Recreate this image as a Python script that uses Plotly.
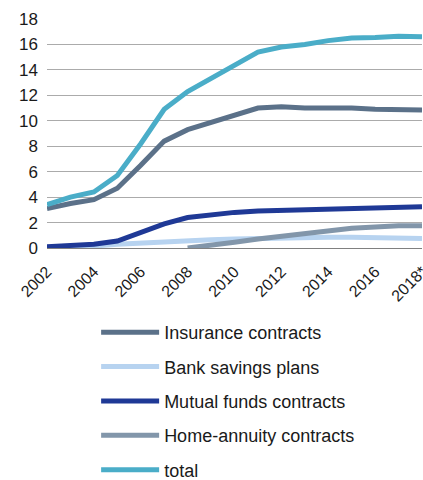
import plotly.graph_objects as go

years = ["2002", "2003", "2004", "2005", "2006", "2007", "2008", "2009", "2010",
         "2011", "2012", "2013", "2014", "2015", "2016", "2017", "2018*"]
tick_years = ["2002", "2004", "2006", "2008", "2010", "2012", "2014", "2016", "2018*"]

insurance = [3.1, 3.5, 3.8, 4.7, 6.5, 8.4, 9.3, 9.9, 10.5, 11.0, 11.1, 11.0, 11.0, 11.0, 10.9, 10.85, 10.85]
bank_savings = [0.05, 0.1, 0.15, 0.3, 0.4, 0.5, 0.6, 0.65, 0.7, 0.75, 0.8, 0.85, 0.85, 0.85, 0.8, 0.8, 0.75]
mutual_funds = [0.1, 0.2, 0.3, 0.55, 1.2, 1.9, 2.4, 2.6, 2.8, 2.9, 2.95, 3.0, 3.05, 3.1, 3.15, 3.2, 3.25]
home_annuity = [None, None, None, None, None, None, 0.0, 0.2, 0.45, 0.7, 0.9, 1.1, 1.35, 1.55, 1.65, 1.75, 1.75]
total = [3.4, 4.0, 4.4, 5.7, 8.2, 10.9, 12.3, 13.3, 14.3, 15.4, 15.8, 16.0, 16.3, 16.5, 16.55, 16.65, 16.6]

# drawing order (back to front) with the legend rank of each series
series = [
    ("Bank savings plans", bank_savings, "#B7D3F0", 2),
    ("Home-annuity contracts", home_annuity, "#8296AA", 4),
    ("Mutual funds contracts", mutual_funds, "#1F3996", 3),
    ("Insurance contracts", insurance, "#5B7189", 1),
    ("total", total, "#4AADC8", 5),
]

fig = go.Figure()
for name, vals, color, rank in series:
    fig.add_trace(go.Scatter(
        x=years, y=vals, name=name, mode="lines",
        line=dict(color=color, width=5),
        legendrank=rank, legendgroup=name,
        connectgaps=False,
    ))

font_family = "Liberation Sans, Arial, sans-serif"

fig.update_layout(
    width=423, height=480,
    margin=dict(l=47, r=1, t=19, b=232, autoexpand=False),
    paper_bgcolor="white", plot_bgcolor="white",
    font=dict(family=font_family, size=17, color="#1a1a1a"),
    showlegend=True,
    legend=dict(
        orientation="v",
        x=0.131, xanchor="left",
        y=-0.288, yanchor="top",
        font=dict(size=18, color="#1a1a1a"),
        tracegroupgap=8,
        itemwidth=58,
        bgcolor="rgba(0,0,0,0)",
    ),
    xaxis=dict(
        type="category",
        range=[0, 16],
        tickmode="array", tickvals=tick_years, ticktext=tick_years,
        tickangle=-45,
        showgrid=False,
        showline=True, linecolor="#808080", linewidth=1,
        ticks="",
        tickfont=dict(size=16),
        ticklabelstandoff=7,
        automargin=False,
    ),
    yaxis=dict(
        range=[0, 18],
        tickmode="array", tickvals=[0, 2, 4, 6, 8, 10, 12, 14, 16, 18],
        showgrid=True, gridcolor="#ABABAB", gridwidth=1,
        zeroline=False, showline=False,
        ticks="",
        tickfont=dict(size=17),
        ticklabelstandoff=8,
        automargin=False,
    ),
)

fig.write_html("out.html")
